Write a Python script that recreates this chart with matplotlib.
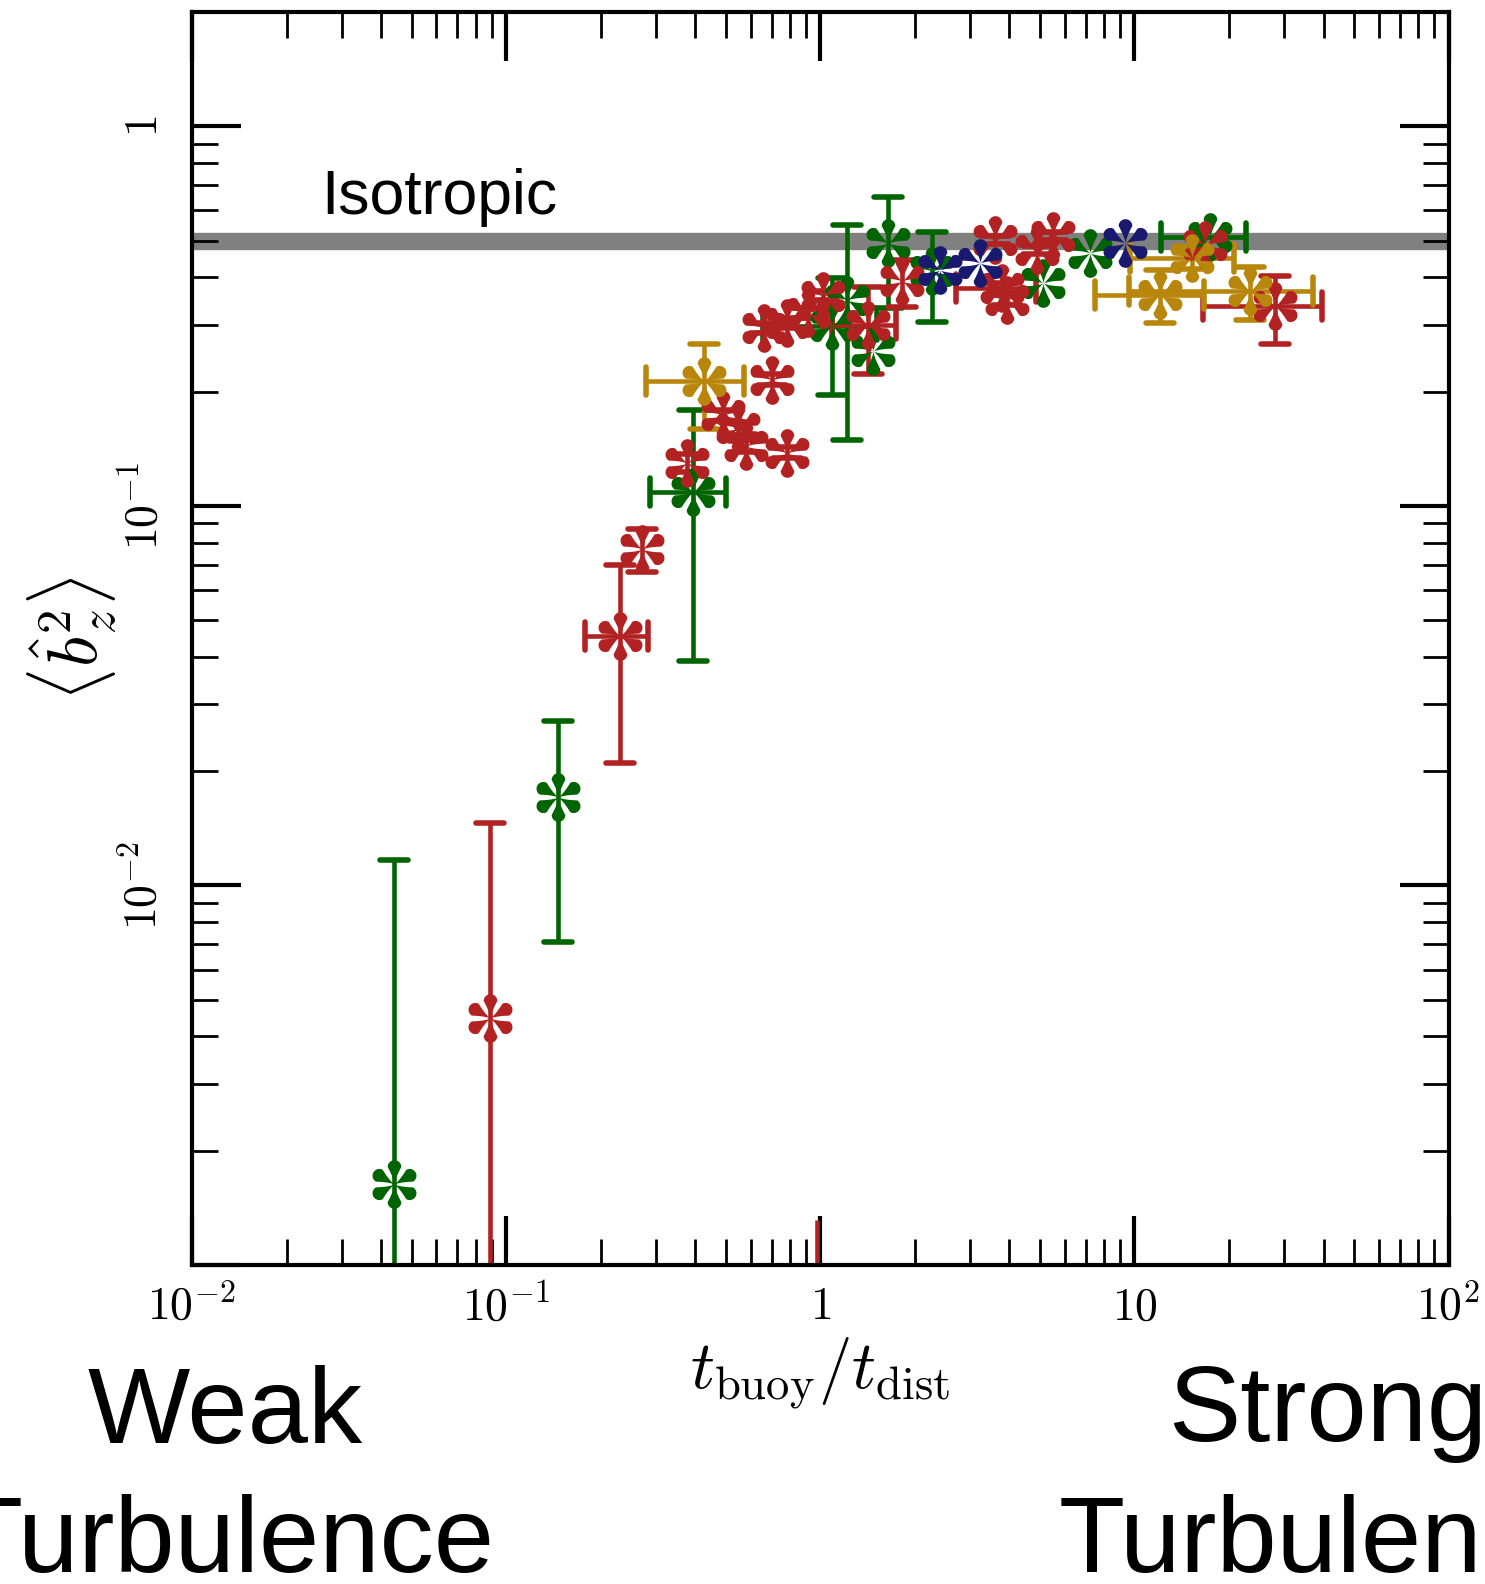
import numpy as np
import matplotlib
matplotlib.use("Agg")
import matplotlib.pyplot as plt
from matplotlib.path import Path
from matplotlib.markers import MarkerStyle
from matplotlib.ticker import LogLocator, NullFormatter

# ---- measurements: t_buoy/t_dist vs <b_z^2>, symmetric errors (0 = none) ----
green_x    = [0.044, 0.146, 0.394, 1.087, 1.212, 1.475, 1.648, 2.263, 5.13, 7.22, 17.4]
green_y    = [0.00163, 0.0171, 0.109, 0.297, 0.349, 0.2555, 0.492, 0.415, 0.386, 0.463, 0.51]
green_xerr = [0, 0, 0.108, 0.43, 0, 0, 0, 0, 0, 0, 5.25]
green_yerr = [0.0100, 0.0100, 0.070, 0.101, 0.20, 0, 0.16, 0.11, 0, 0, 0]

red_x    = [0.0889, 0.2304, 0.270, 0.3755, 0.491, 0.545, 0.578, 0.781, 0.700, 0.660,
            0.783, 0.915, 1.022, 1.416, 1.816, 3.60, 3.78, 3.92, 4.88, 5.52, 16.77, 28.0]
red_y    = [0.00446, 0.0455, 0.0769, 0.130, 0.173, 0.160, 0.144, 0.138, 0.215, 0.294,
            0.303, 0.323, 0.358, 0.300, 0.390, 0.502, 0.375, 0.349, 0.473, 0.513, 0.4875, 0.3354]
red_xerr = [0, 0.052, 0, 0, 0, 0, 0, 0, 0, 0,
            0, 0, 0, 0.33, 0, 0, 1.08, 0, 0, 0, 0, 11.5]
red_yerr = [0.0101, 0.0245, 0.010, 0.0073, 0.006, 0.006, 0.005, 0.0045, 0.007, 0.009,
            0.009, 0.010, 0.010, 0.077, 0.055, 0.012, 0.012, 0.010, 0.012, 0.012, 0, 0.068]

# red run whose value lies below the plotted range: only its error bar shows
red_low_x = [0.975]
red_low_top = [0.00131]

gold_x    = [0.4265, 12.06, 15.2, 23.32]
gold_y    = [0.2131, 0.360, 0.4496, 0.3673]
gold_xerr = [0.147, 4.57, 5.5, 13.7]
gold_yerr = [0.054, 0.057, 0.03, 0.058]

navy_x = [2.404, 3.22, 9.33]
navy_y = [0.419, 0.436, 0.492]

isotropic_level = 0.5

GREEN, RED, GOLD, NAVY = "#006400", "#B22222", "#B8860B", "#191970"
series = [
    (GREEN, green_x, green_y, green_xerr, green_yerr),
    (RED, red_x, red_y, red_xerr, red_yerr),
    (GOLD, gold_x, gold_y, gold_xerr, gold_yerr),
    (NAVY, navy_x, navy_y, [0] * len(navy_x), [0] * len(navy_x)),
]

xtick_vals = [1e-2, 1e-1, 1, 10, 1e2]
xtick_text = [r"$10^{-2}$", r"$10^{-1}$", r"$1$", r"$10$", r"$10^{2}$"]
ytick_vals = [1e-3, 1e-2, 1e-1, 1]
ytick_text = ["", r"$10^{-2}$", r"$10^{-1}$", r"$1$"]


def petal_path():
    """Six tear-drop petals radiating from the centre."""
    c, a = 0.72, 0.28
    r_neck = np.linspace(0, c, 40)
    w_neck = a * (r_neck / c) ** 1.4
    phi = np.linspace(np.pi / 2, -np.pi / 2, 40)
    xs = np.concatenate([r_neck, c + a * np.cos(phi), r_neck[::-1]])
    ys = np.concatenate([w_neck, a * np.sin(phi), -w_neck[::-1]])
    verts, codes = [], []
    for k in range(6):
        ang = np.pi / 2 + k * np.pi / 3
        ca, sa = np.cos(ang), np.sin(ang)
        px = xs * ca - ys * sa
        py = xs * sa + ys * ca
        pts = list(zip(px, py))
        verts += pts + [pts[0]]
        codes += [Path.MOVETO] + [Path.LINETO] * (len(pts) - 1) + [Path.CLOSEPOLY]
    return Path(verts, codes)


PETAL = MarkerStyle(petal_path())

fig = plt.figure(figsize=(14.85, 15.84), dpi=100)
ax = fig.add_axes([0.1293, 0.2015, 0.8462, 0.7909])
ax.set_xscale("log")
ax.set_yscale("log", nonpositive="clip")
ax.set_xlim(1e-2, 1e2)
ax.set_ylim(1e-3, 2.0)

ax.axhline(isotropic_level, color="#808080", lw=12.5, zorder=1)
ax.text(0.0258, 0.587, "Isotropic", fontsize=45, family="Liberation Sans",
        va="baseline", ha="left")

ax.vlines(red_low_x, 1e-3, red_low_top, color=RED, lw=3.3, zorder=3)

for color, xs, ys, xes, yes in series:
    for x, y, xe, ye in zip(xs, ys, xes, yes):
        _, caps, _ = ax.errorbar(
            x, y,
            xerr=xe if xe else None,
            yerr=ye if ye else None,
            fmt="none", ecolor=color, elinewidth=3.3,
            capsize=10, capthick=4.0, zorder=3,
        )
        for cl in caps:
            cl.set_marker(MarkerStyle(cl.get_marker(), capstyle="round"))
        ax.plot(x, y, linestyle="none", marker=PETAL, markersize=35,
                markerfacecolor=color, markeredgewidth=0, zorder=4)

# axis styling
for sp in ax.spines.values():
    sp.set_linewidth(3.0)
    sp.set_zorder(6)
ax.tick_params(which="both", direction="in", top=True, right=True)
ax.tick_params(which="major", length=35, width=3.0)
ax.tick_params(which="minor", length=18.5, width=2.0)
ax.tick_params(axis="x", which="major", pad=14)
ax.tick_params(axis="y", which="major", pad=18)

ax.set_xticks(xtick_vals)
ax.set_xticklabels(xtick_text)
ax.set_yticks(ytick_vals)
ax.set_yticklabels(ytick_text)
ax.yaxis.set_minor_locator(LogLocator(base=10, subs=np.arange(2, 10)))
ax.xaxis.set_minor_locator(LogLocator(base=10, subs=np.arange(2, 10)))
ax.yaxis.set_minor_formatter(NullFormatter())
ax.xaxis.set_minor_formatter(NullFormatter())
for lab in ax.get_xticklabels():
    lab.set_fontsize(33)
    lab.set_math_fontfamily("cm")
for lab in ax.get_yticklabels():
    lab.set_fontsize(33)
    lab.set_math_fontfamily("cm")
    lab.set_rotation(90)
    lab.set_verticalalignment("center")

ax.set_xlabel(r"$t_{\rm buoy}/t_{\rm dist}$", fontsize=48, math_fontfamily="cm",
              labelpad=4)
ax.set_ylabel(r"$\left\langle \hat{b}_z^2 \right\rangle$", fontsize=50,
              math_fontfamily="cm", labelpad=2)

# regime annotations below the axis
big = dict(fontsize=78, family="Liberation Sans", ha="center", va="baseline")
fig.text(0.1517, 1 - 1428 / 1568, "Weak", **big)
fig.text(0.1517, 1 - 1556 / 1568, "Turbulence", **big)
fig.text(0.894, 1 - 1426 / 1568, "Strong", **big)
fig.text(0.894, 1 - 1556 / 1568, "Turbulence", **big)

fig.savefig("out.png", dpi=100)
